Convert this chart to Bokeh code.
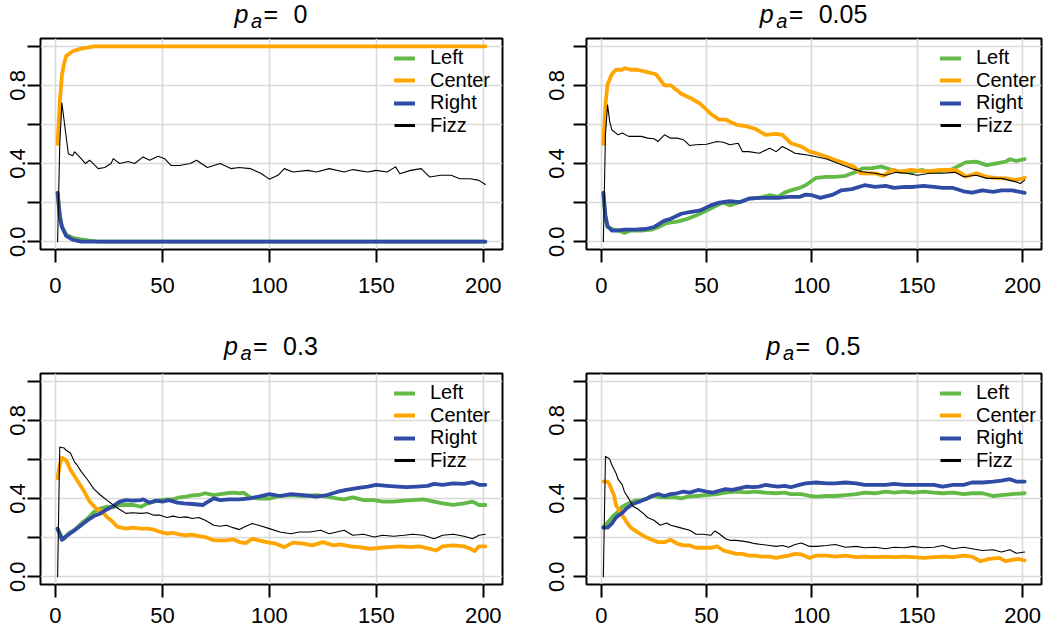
from bokeh.plotting import figure
from bokeh.layouts import column, row
from bokeh.models import FixedTicker, Legend, LegendItem, Range1d, Div
from bokeh.embed import file_html
from bokeh.resources import INLINE

# ---------------- data ----------------
panel_values = ["0", "0.05", "0.3", "0.5"]
series_names = ["Left", "Center", "Right", "Fizz"]
series_colors = ["#62B946", "#FFA500", "#2F4BA5", "#000000"]
x_ticks = [0, 50, 100, 150, 200]
y_ticks = [0.0, 0.2, 0.4, 0.6, 0.8, 1.0]
y_tick_labels = ["0.0", "", "0.4", "", "0.8", ""]

# p_a = 0
pa0_left = [(1, 0.25), (2, 0.14), (3, 0.08), (5, 0.035), (8, 0.02), (12, 0.012), (16, 0.006), (20, 0.0), (201, 0.0)]
pa0_center = [(1, 0.50), (2, 0.71), (3, 0.85), (4, 0.91), (5, 0.95), (8, 0.975), (12, 0.988), (15, 0.993), (18, 1.0), (201, 1.0)]
pa0_right = [(1, 0.25), (2, 0.13), (3, 0.075), (5, 0.03), (8, 0.01), (12, 0.0), (201, 0.0)]
pa0_fizz = [(1, 0.0), (2, 0.5), (3, 0.71), (5, 0.537), (6, 0.45), (8, 0.44), (9, 0.46), (12, 0.425), (14, 0.40),
            (16, 0.417), (20, 0.374), (23, 0.38), (26, 0.40), (27, 0.425), (30, 0.40), (34, 0.41), (37, 0.40),
            (41, 0.434), (44, 0.417), (48, 0.437), (51, 0.425), (54, 0.39), (58, 0.39), (63, 0.40), (66, 0.417),
            (71, 0.38), (77, 0.40), (82, 0.374), (86, 0.38), (91, 0.374), (96, 0.35), (100, 0.32), (104, 0.34),
            (107, 0.374), (111, 0.357), (118, 0.365), (122, 0.357), (128, 0.374), (135, 0.357), (139, 0.369),
            (146, 0.357), (150, 0.365), (155, 0.357), (159, 0.383), (161, 0.348), (166, 0.365), (171, 0.374),
            (175, 0.331), (180, 0.34), (185, 0.34), (189, 0.322), (194, 0.322), (198, 0.314), (201, 0.293)]

# p_a = 0.05
pa005_left = [(1, 0.25), (2, 0.117), (3, 0.074), (6, 0.062), (8, 0.057), (11, 0.045), (14, 0.057), (19, 0.057),
              (24, 0.062), (27, 0.074), (31, 0.095), (36, 0.103), (41, 0.117), (45, 0.134), (50, 0.16), (55, 0.186),
              (58, 0.20), (61, 0.186), (66, 0.203), (70, 0.22), (75, 0.224), (80, 0.238), (84, 0.229), (87, 0.251),
              (90, 0.263), (94, 0.275), (97, 0.289), (102, 0.327), (107, 0.332), (111, 0.332), (116, 0.337),
              (121, 0.358), (124, 0.375), (128, 0.375), (133, 0.384), (138, 0.367), (142, 0.358), (147, 0.355),
              (152, 0.367), (156, 0.358), (161, 0.361), (166, 0.367), (169, 0.384), (173, 0.406), (178, 0.41),
              (183, 0.392), (187, 0.40), (192, 0.41), (194, 0.423), (197, 0.413), (201, 0.423)]
pa005_center = [(1, 0.50), (2, 0.70), (3, 0.805), (5, 0.857), (7, 0.88), (10, 0.88), (11, 0.888), (14, 0.88),
                (17, 0.88), (21, 0.87), (24, 0.862), (26, 0.857), (30, 0.80), (33, 0.80), (38, 0.757), (42, 0.737),
                (47, 0.706), (52, 0.654), (56, 0.625), (59, 0.625), (64, 0.599), (69, 0.59), (73, 0.578),
                (78, 0.547), (83, 0.552), (86, 0.547), (90, 0.504), (95, 0.487), (99, 0.461), (102, 0.453),
                (107, 0.435), (111, 0.418), (116, 0.40), (120, 0.384), (123, 0.35), (127, 0.35), (130, 0.35),
                (134, 0.337), (138, 0.367), (142, 0.358), (147, 0.367), (152, 0.361), (156, 0.361), (161, 0.367),
                (164, 0.367), (168, 0.367), (171, 0.35), (173, 0.332), (178, 0.35), (183, 0.332), (187, 0.327),
                (192, 0.324), (197, 0.315), (201, 0.327)]
pa005_right = [(1, 0.25), (2, 0.134), (3, 0.08), (5, 0.057), (7, 0.057), (11, 0.062), (16, 0.062), (21, 0.065),
               (25, 0.074), (30, 0.108), (33, 0.117), (38, 0.143), (42, 0.151), (47, 0.16), (52, 0.186),
               (56, 0.20), (61, 0.207), (66, 0.203), (70, 0.22), (75, 0.224), (80, 0.224), (84, 0.224),
               (89, 0.229), (94, 0.229), (97, 0.241), (100, 0.238), (104, 0.224), (110, 0.241), (114, 0.263),
               (119, 0.269), (125, 0.289), (130, 0.28), (135, 0.286), (139, 0.275), (144, 0.28), (148, 0.28),
               (153, 0.286), (158, 0.28), (162, 0.275), (167, 0.275), (172, 0.258), (176, 0.251), (181, 0.263),
               (186, 0.255), (190, 0.263), (195, 0.263), (201, 0.25)]
pa005_fizz = [(1, 0.0), (2, 0.55), (3, 0.70), (4, 0.616), (5, 0.573), (7, 0.556), (8, 0.547), (10, 0.556),
              (13, 0.539), (16, 0.539), (19, 0.539), (22, 0.53), (25, 0.527), (27, 0.513), (30, 0.547), (33, 0.53),
              (36, 0.53), (39, 0.522), (42, 0.492), (45, 0.496), (50, 0.499), (55, 0.513), (58, 0.509),
              (61, 0.496), (65, 0.504), (67, 0.461), (70, 0.461), (75, 0.453), (80, 0.478), (83, 0.461),
              (86, 0.487), (89, 0.47), (92, 0.453), (95, 0.448), (98, 0.444), (102, 0.435), (107, 0.423),
              (110, 0.41), (115, 0.39), (120, 0.37), (124, 0.358), (130, 0.35), (135, 0.34), (140, 0.355),
              (145, 0.35), (150, 0.34), (156, 0.35), (162, 0.35), (168, 0.355), (172, 0.332), (178, 0.34),
              (183, 0.324), (190, 0.324), (197, 0.306), (199, 0.298), (201, 0.315)]

# p_a = 0.3
pa03_left = [(1, 0.246), (3, 0.20), (4, 0.194), (6, 0.22), (9, 0.241), (12, 0.272), (15, 0.298), (18, 0.332),
             (21, 0.349), (24, 0.358), (27, 0.355), (30, 0.367), (33, 0.367), (36, 0.367), (40, 0.358), (43, 0.375),
             (46, 0.384), (49, 0.392), (52, 0.396), (55, 0.396), (58, 0.406), (61, 0.41), (64, 0.416), (67, 0.418),
             (70, 0.427), (74, 0.418), (77, 0.423), (80, 0.427), (83, 0.43), (86, 0.427), (88, 0.43), (91, 0.406),
             (95, 0.40), (100, 0.40), (105, 0.413), (110, 0.418), (116, 0.413), (122, 0.418), (127, 0.41),
             (132, 0.40), (135, 0.396), (139, 0.406), (144, 0.392), (149, 0.392), (153, 0.384), (158, 0.384),
             (163, 0.389), (167, 0.392), (172, 0.396), (177, 0.384), (181, 0.375), (186, 0.367), (191, 0.375),
             (195, 0.384), (198, 0.367), (201, 0.367)]
pa03_center = [(1, 0.504), (2, 0.573), (3, 0.608), (5, 0.596), (7, 0.547), (10, 0.496), (13, 0.444), (16, 0.384),
               (19, 0.349), (22, 0.332), (24, 0.306), (26, 0.289), (29, 0.255), (33, 0.246), (36, 0.251),
               (40, 0.246), (43, 0.246), (46, 0.241), (49, 0.229), (52, 0.22), (55, 0.224), (58, 0.217),
               (61, 0.212), (64, 0.215), (67, 0.208), (70, 0.203), (74, 0.186), (77, 0.186), (80, 0.186),
               (83, 0.191), (86, 0.177), (89, 0.172), (92, 0.194), (95, 0.186), (100, 0.174), (103, 0.169),
               (107, 0.151), (111, 0.174), (116, 0.169), (120, 0.16), (125, 0.177), (130, 0.16), (133, 0.165),
               (138, 0.155), (142, 0.151), (147, 0.143), (152, 0.148), (156, 0.151), (161, 0.155), (166, 0.151),
               (170, 0.155), (175, 0.143), (178, 0.134), (181, 0.155), (186, 0.16), (191, 0.155), (194, 0.143),
               (196, 0.131), (198, 0.155), (201, 0.155)]
pa03_right = [(1, 0.246), (3, 0.189), (5, 0.207), (9, 0.238), (12, 0.263), (15, 0.289), (18, 0.31), (21, 0.324),
              (24, 0.344), (27, 0.361), (30, 0.384), (33, 0.392), (36, 0.389), (40, 0.392), (41, 0.396),
              (44, 0.379), (47, 0.389), (50, 0.384), (53, 0.392), (57, 0.379), (60, 0.375), (64, 0.372),
              (69, 0.367), (70, 0.375), (74, 0.401), (77, 0.392), (81, 0.396), (86, 0.396), (91, 0.401),
              (95, 0.41), (100, 0.423), (105, 0.413), (110, 0.423), (116, 0.418), (122, 0.41), (127, 0.418),
              (132, 0.435), (136, 0.444), (141, 0.453), (146, 0.461), (150, 0.47), (155, 0.465), (160, 0.461),
              (164, 0.458), (169, 0.461), (174, 0.465), (177, 0.475), (181, 0.47), (186, 0.478), (191, 0.475),
              (195, 0.484), (198, 0.47), (201, 0.47)]
pa03_fizz = [(1, 0.0), (2, 0.664), (4, 0.659), (5, 0.647), (7, 0.633), (9, 0.585), (10, 0.573), (12, 0.539),
             (15, 0.496), (18, 0.448), (21, 0.418), (24, 0.392), (27, 0.367), (30, 0.344), (33, 0.324),
             (36, 0.327), (40, 0.324), (43, 0.327), (46, 0.315), (49, 0.315), (52, 0.303), (55, 0.31), (58, 0.303),
             (61, 0.306), (64, 0.298), (67, 0.303), (70, 0.289), (74, 0.263), (77, 0.258), (80, 0.263),
             (83, 0.251), (86, 0.241), (89, 0.258), (92, 0.272), (95, 0.263), (100, 0.246), (105, 0.229),
             (110, 0.22), (114, 0.229), (119, 0.229), (124, 0.238), (128, 0.22), (135, 0.238), (139, 0.212),
             (144, 0.217), (149, 0.203), (153, 0.212), (158, 0.207), (163, 0.212), (167, 0.217), (172, 0.212),
             (177, 0.194), (181, 0.212), (186, 0.217), (191, 0.207), (195, 0.194), (198, 0.212), (201, 0.217)]

# p_a = 0.5
pa05_left = [(1, 0.255), (2, 0.263), (4, 0.289), (6, 0.315), (8, 0.332), (10, 0.358), (13, 0.375), (16, 0.389),
             (19, 0.392), (22, 0.401), (25, 0.413), (28, 0.406), (31, 0.406), (35, 0.406), (38, 0.401), (41, 0.41),
             (45, 0.413), (50, 0.418), (55, 0.423), (59, 0.43), (64, 0.435), (69, 0.432), (73, 0.435), (78, 0.43),
             (83, 0.427), (87, 0.43), (90, 0.423), (95, 0.423), (99, 0.413), (102, 0.41), (107, 0.413),
             (111, 0.413), (116, 0.418), (121, 0.423), (125, 0.43), (130, 0.427), (135, 0.435), (139, 0.43),
             (144, 0.435), (148, 0.43), (153, 0.435), (158, 0.43), (162, 0.427), (167, 0.43), (172, 0.423),
             (176, 0.427), (181, 0.427), (186, 0.413), (190, 0.418), (195, 0.423), (201, 0.427)]
pa05_center = [(1, 0.487), (3, 0.487), (4, 0.47), (6, 0.418), (7, 0.367), (10, 0.315), (12, 0.28), (14, 0.251),
               (17, 0.229), (21, 0.203), (24, 0.189), (27, 0.177), (30, 0.177), (33, 0.189), (36, 0.169),
               (39, 0.16), (42, 0.16), (45, 0.148), (48, 0.148), (52, 0.148), (55, 0.155), (58, 0.134),
               (61, 0.126), (64, 0.117), (67, 0.117), (70, 0.108), (73, 0.108), (76, 0.103), (80, 0.103),
               (83, 0.096), (86, 0.103), (89, 0.108), (92, 0.117), (95, 0.114), (99, 0.096), (102, 0.108),
               (107, 0.108), (111, 0.103), (116, 0.108), (121, 0.10), (125, 0.103), (130, 0.10), (135, 0.103),
               (139, 0.10), (144, 0.103), (148, 0.10), (153, 0.096), (158, 0.10), (162, 0.103), (167, 0.10),
               (172, 0.108), (176, 0.103), (180, 0.079), (184, 0.091), (189, 0.096), (192, 0.079), (195, 0.086),
               (198, 0.091), (201, 0.083)]
pa05_right = [(1, 0.251), (3, 0.251), (5, 0.272), (7, 0.303), (10, 0.327), (12, 0.349), (15, 0.372), (18, 0.384),
              (21, 0.396), (24, 0.413), (27, 0.423), (30, 0.413), (33, 0.423), (36, 0.427), (39, 0.435),
              (42, 0.43), (46, 0.444), (50, 0.435), (53, 0.43), (56, 0.44), (59, 0.448), (62, 0.444), (66, 0.453),
              (69, 0.461), (72, 0.458), (75, 0.461), (78, 0.47), (81, 0.465), (84, 0.461), (87, 0.465),
              (90, 0.458), (94, 0.47), (97, 0.478), (102, 0.482), (107, 0.478), (111, 0.478), (116, 0.482),
              (121, 0.478), (125, 0.47), (130, 0.47), (135, 0.47), (139, 0.475), (144, 0.47), (148, 0.47),
              (153, 0.47), (158, 0.47), (162, 0.461), (167, 0.47), (172, 0.47), (176, 0.482), (181, 0.482),
              (186, 0.487), (190, 0.492), (194, 0.499), (197, 0.487), (201, 0.487)]
pa05_fizz = [(1, 0.0), (2, 0.616), (4, 0.602), (5, 0.573), (7, 0.53), (8, 0.499), (10, 0.47), (11, 0.435),
             (13, 0.401), (15, 0.361), (17, 0.349), (20, 0.324), (22, 0.303), (25, 0.289), (28, 0.263), (31, 0.275),
             (33, 0.263), (36, 0.255), (39, 0.246), (42, 0.238), (45, 0.217), (48, 0.217), (52, 0.212),
             (54, 0.234), (56, 0.22), (59, 0.194), (61, 0.186), (64, 0.186), (67, 0.182), (70, 0.177),
             (73, 0.169), (76, 0.165), (80, 0.16), (83, 0.155), (86, 0.16), (89, 0.151), (92, 0.165), (95, 0.172),
             (99, 0.155), (102, 0.155), (107, 0.16), (111, 0.165), (116, 0.151), (121, 0.155), (125, 0.148),
             (130, 0.151), (135, 0.143), (139, 0.151), (144, 0.148), (148, 0.155), (153, 0.148), (158, 0.151),
             (162, 0.16), (167, 0.143), (172, 0.151), (176, 0.143), (181, 0.134), (186, 0.138), (190, 0.126),
             (194, 0.138), (197, 0.12), (201, 0.126)]

panel_series = [
    [pa0_left, pa0_center, pa0_right, pa0_fizz],
    [pa005_left, pa005_center, pa005_right, pa005_fizz],
    [pa03_left, pa03_center, pa03_right, pa03_fizz],
    [pa05_left, pa05_center, pa05_right, pa05_fizz],
]

# ---------------- layout ----------------
FONT = "Liberation Sans"
# (border_left, frame_w, border_right, title_h, frame_h, border_bottom, y_standoff, x_standoff, title_baseline)
geoms = [
    (40, 462, 18, 30, 211, 61, 2, 15, 23),
    (66, 455, 9, 30, 211, 61, 9, 15, 23),
    (40, 462, 18, 55, 211, 44, 2, 10, 45),
    (66, 455, 9, 55, 211, 44, 9, 10, 45),
]
GAP_TOP = 8  # space between title strip and plot box
TITLE_PX = 25
SUB_PX = 20
LEG_PX = 20
LEG_PITCH = 22.5
LEG_FIRST = 20.25  # centre of the first key row, px below the top of the box


def text_width(s, size):
    w = {".": 0.278}
    return sum(w.get(c, 0.556) for c in s) * size


def make_title(idx):
    bl, fw, br, th, fh, bb, ys, xs, base = geoms[idx]
    width = bl + fw + br
    val = panel_values[idx]
    total = 59 + text_width(val, TITLE_PX)
    start = bl + fw / 2 - total / 2
    k = 0.8465  # line-box top -> baseline, as a fraction of the font size
    pieces = [("p", 0, base - k * TITLE_PX, TITLE_PX, "italic"),
              ("a", 16.5, base + 5 - k * SUB_PX, SUB_PX, "italic"),
              ("=", 29, base - k * TITLE_PX, TITLE_PX, "normal"),
              (val, 59, base - k * TITLE_PX, TITLE_PX, "normal")]
    spans = "".join(
        f'<span style="position:absolute;left:{start + dx:.1f}px;top:{top:.1f}px;font-size:{fs}px;'
        f'line-height:{fs}px;font-style:{st};white-space:nowrap;">{txt}</span>'
        for txt, dx, top, fs, st in pieces)
    html = (f'<div style="position:relative;width:{width}px;height:{th}px;'
            f'font-family:\'{FONT}\';color:black;">{spans}</div>')
    return Div(text=html, width=width, height=th, margin=0)


def make_panel(idx):
    bl, fw, br, th, fh, bb, ys, xs, base = geoms[idx]
    p = figure(frame_width=fw, frame_height=fh, min_border_left=bl, min_border_right=br,
               min_border_top=GAP_TOP, min_border_bottom=bb, output_backend="svg", toolbar_location=None,
               x_range=Range1d(-7, 209), y_range=Range1d(-0.04, 1.04))
    p.background_fill_color = "white"
    p.border_fill_color = "white"
    p.outline_line_color = "black"
    p.outline_line_width = 2
    p.outline_line_alpha = 1

    p.xaxis.ticker = FixedTicker(ticks=x_ticks)
    p.yaxis.ticker = FixedTicker(ticks=y_ticks)
    p.yaxis.major_label_overrides = {t: lab for t, lab in zip(y_ticks, y_tick_labels)}
    for ax in (p.xaxis[0], p.yaxis[0]):
        ax.axis_line_color = None
        ax.major_tick_out = 13
        ax.major_tick_in = 0
        ax.major_tick_line_width = 2
        ax.major_tick_line_color = "black"
        ax.minor_tick_line_color = None
        ax.major_label_text_font = FONT
        ax.major_label_text_font_size = "22px"
        ax.major_label_text_color = "black"
    p.xaxis.major_label_standoff = xs
    p.yaxis.major_label_orientation = "vertical"
    p.yaxis.major_label_standoff = ys

    for g in (p.xgrid[0], p.ygrid[0]):
        g.grid_line_color = "#D9D9D9"
        g.grid_line_width = 1.6

    renderers = []
    for name, color, pts in zip(series_names, series_colors, panel_series[idx]):
        xv = [a for a, b in pts]
        yv = [b for a, b in pts]
        lw = 1.1 if name == "Fizz" else 3.8
        r = p.line(xv, yv, line_color=color, line_width=lw, line_join="round", line_cap="round")
        renderers.append(r)
    # the key of the thin Fizz line is drawn thick, as in the reference
    fizz_key = p.line([float("nan")], [float("nan")], line_color=series_colors[3], line_width=3)
    key_renderers = renderers[:3] + [fizz_key]
    # one single-row legend per entry, so the rows sit on an exact pitch
    for i, (name, r) in enumerate(zip(series_names, key_renderers)):
        centre = LEG_FIRST + LEG_PITCH * i
        leg = Legend(items=[LegendItem(label=name, renderers=[r])], location=(354, fh - centre - 11),
                     orientation="vertical", glyph_width=21, glyph_height=22, label_height=22,
                     label_standoff=15, spacing=0, padding=0, margin=0, border_line_alpha=0,
                     background_fill_alpha=0, label_text_font=FONT, label_text_font_size=f"{LEG_PX}px",
                     label_text_color="black")
        p.add_layout(leg)
    return p


cells = [column(make_title(i), make_panel(i)) for i in range(4)]
layout = column(row(cells[0], cells[1]), row(cells[2], cells[3]))

open("out.html", "w").write(file_html(layout, INLINE))
